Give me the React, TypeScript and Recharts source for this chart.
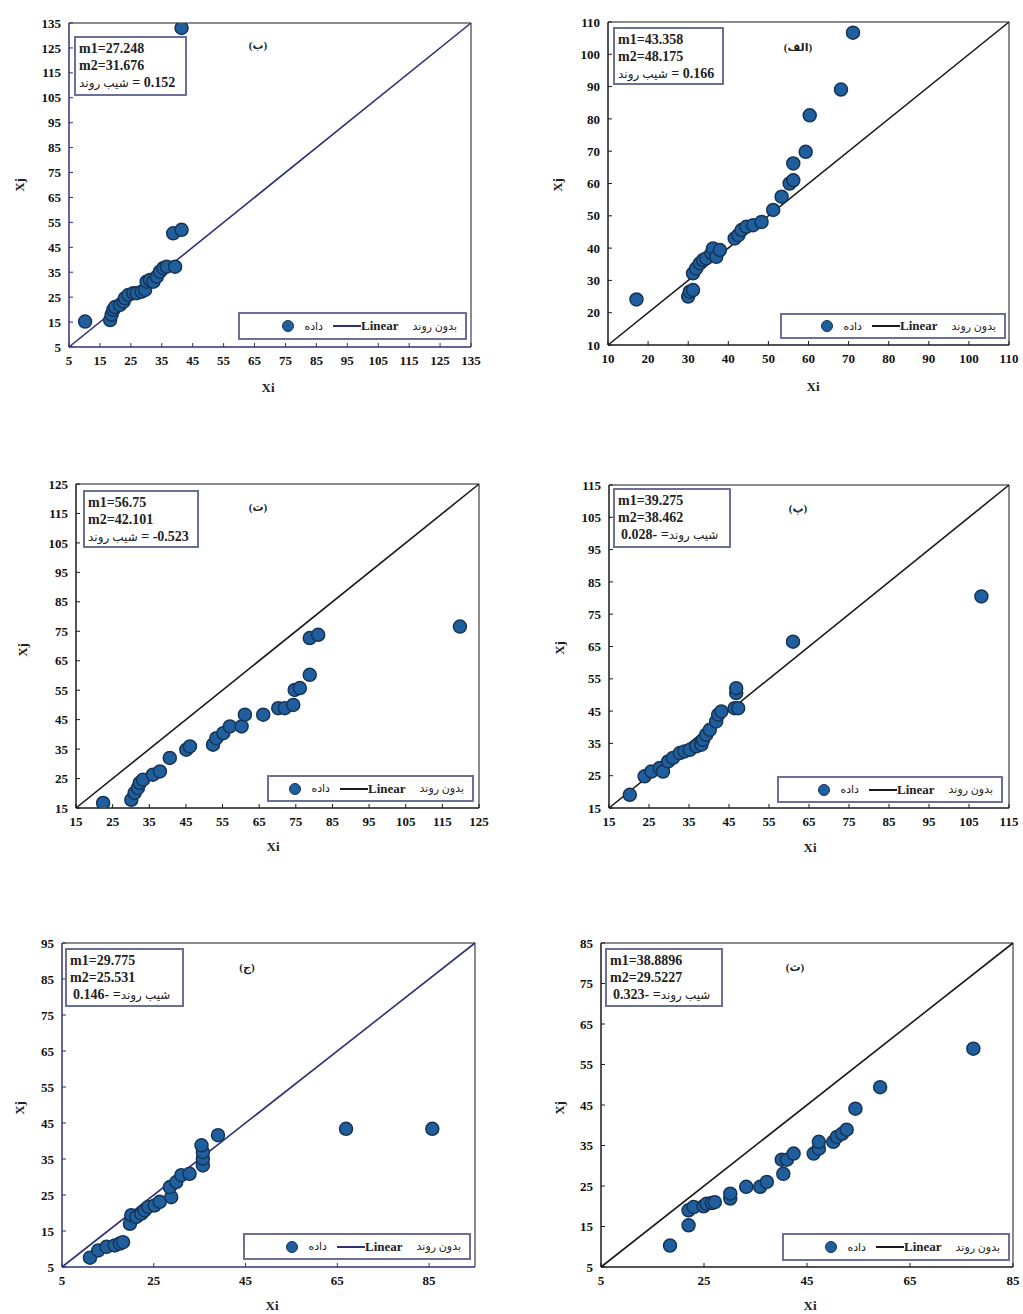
import React from 'react';
import { ScatterChart, Scatter, XAxis, YAxis, ReferenceLine } from 'recharts';

// ---------- DATA ----------
const dataB: [number, number][] = [
  [10.2, 15.2], [18.3, 15.8], [18.8, 18.0], [19.3, 19.9], [19.9, 21.0], [21.5, 21.9], [22.6, 23.2],
  [23.1, 24.6], [24.2, 25.9], [25.8, 26.6], [26.9, 26.6], [28.5, 27.2], [29.6, 27.9], [30.1, 31.2],
  [31.2, 31.9], [32.3, 31.2], [33.4, 33.2], [34.4, 35.2], [35.5, 36.6], [36.6, 37.2], [39.3, 37.2],
  [38.7, 50.6], [41.4, 52.0], [41.4, 133.0],
];
const dataAlef: [number, number][] = [
  [17.1, 24.1], [30.0, 25.0], [30.4, 26.5], [31.2, 27.0], [31.2, 32.2], [32.0, 33.7], [32.9, 35.3],
  [33.7, 36.3], [34.5, 36.8], [35.8, 38.4], [36.2, 39.9], [37.0, 37.3], [37.9, 39.4], [41.6, 43.0],
  [42.5, 44.0], [43.3, 45.6], [44.5, 46.6], [46.2, 47.1], [48.3, 48.1], [51.2, 51.8], [53.3, 55.9],
  [55.3, 60.0], [56.2, 61.0], [56.2, 66.2], [59.3, 69.8], [60.3, 81.1], [68.1, 89.1], [71.1, 106.7],
];
const dataTe: [number, number][] = [
  [22.4, 16.7], [30.1, 17.8], [31.0, 20.1], [31.9, 21.8], [32.4, 23.5], [33.3, 24.6], [36.0, 26.3],
  [37.9, 27.4], [40.6, 32.0], [45.1, 34.8], [46.1, 35.9], [52.4, 36.5], [53.3, 38.7], [55.2, 40.4],
  [57.0, 42.7], [60.2, 42.7], [61.1, 46.7], [66.1, 46.7], [70.2, 48.9], [72.0, 48.9], [74.3, 50.0],
  [74.7, 55.1], [76.1, 55.7], [78.8, 60.2], [78.8, 72.7], [81.1, 73.8], [119.8, 76.6],
];
const dataPe: [number, number][] = [
  [20.2, 19.1], [23.9, 24.8], [25.6, 26.3], [27.7, 27.4], [28.5, 26.3], [29.8, 29.4], [31.0, 30.5],
  [32.7, 32.0], [33.9, 32.5], [35.2, 33.0], [36.8, 34.1], [38.1, 34.6], [38.5, 36.1], [39.3, 37.7],
  [40.2, 39.2], [41.8, 41.8], [42.3, 43.9], [43.1, 44.9], [46.4, 45.9], [47.3, 45.9], [46.8, 50.6],
  [46.8, 52.1], [61.0, 66.5], [108.1, 80.5],
];
const dataJim: [number, number][] = [
  [11.1, 7.6], [12.9, 9.6], [14.7, 10.6], [16.5, 11.0], [17.6, 11.5], [18.3, 11.9], [19.8, 17.0],
  [20.1, 19.4], [21.2, 18.9], [22.3, 19.8], [23.0, 20.7], [23.8, 21.7], [25.2, 22.1], [26.3, 23.1],
  [28.8, 24.4], [28.5, 27.2], [29.9, 28.6], [31.0, 30.5], [32.8, 30.9], [35.7, 33.2], [35.7, 35.1],
  [35.7, 36.9], [35.4, 38.8], [39.0, 41.6], [66.9, 43.4], [85.7, 43.4],
];
const dataSe: [number, number][] = [
  [18.4, 10.3], [22.0, 15.3], [22.0, 19.0], [23.0, 19.8], [24.9, 20.0], [25.5, 20.6], [26.5, 20.8],
  [27.1, 21.0], [30.1, 21.9], [30.1, 23.1], [33.2, 24.8], [35.9, 24.8], [37.2, 26.0], [40.4, 28.0],
  [40.1, 31.5], [41.1, 31.5], [42.4, 33.0], [46.3, 33.0], [47.3, 34.2], [47.3, 35.9], [50.1, 35.9],
  [50.8, 37.1], [51.8, 37.9], [52.7, 38.9], [54.4, 44.1], [59.2, 49.4], [77.3, 58.9],
];

const ticksB = [5, 15, 25, 35, 45, 55, 65, 75, 85, 95, 105, 115, 125, 135];
const ticksAlef = [10, 20, 30, 40, 50, 60, 70, 80, 90, 100, 110];
const ticksTe = [15, 25, 35, 45, 55, 65, 75, 85, 95, 105, 115, 125];
const ticksPe = [15, 25, 35, 45, 55, 65, 75, 85, 95, 105, 115];
const ticksJimX = [5, 25, 45, 65, 85];
const ticksJimY = [5, 15, 25, 35, 45, 55, 65, 75, 85, 95];
const ticksSeX = [5, 25, 45, 65, 85];
const ticksSeY = [5, 15, 25, 35, 45, 55, 65, 75, 85];

const labelsM1 = ['m1=27.248', 'm1=43.358', 'm1=56.75', 'm1=39.275', 'm1=29.775', 'm1=38.8896'];
const labelsM2 = ['m2=31.676', 'm2=48.175', 'm2=42.101', 'm2=38.462', 'm2=25.531', 'm2=29.5227'];
const slopeValues = ['0.152', '0.166', '-0.523', '0.028-', '0.146-', '0.323-'];
const panelLetters = ['(ب)', '(الف)', '(ت)', '(پ)', '(ج)', '(ث)'];
const SLOPE_WORD = 'شیب روند';
const LEG_DATA = 'داده';
const LEG_NOTREND = 'بدون روند';

// ---------- STYLE ----------
const FONT = "'Liberation Serif', 'Times New Roman', 'DejaVu Sans', serif";
const NAVY = '#2c3275';
const BLACK = '#1a1a1a';
const BOXBORDER = '#6b7096';
const DOT_FILL = '#1f5f9e';
const DOT_STROKE = '#173456';

type Panel = {
  data: [number, number][];
  domain: [number, number];
  xTicks: number[];
  yTicks: number[];
  plot: [number, number, number, number];
  chart: [number, number, number, number];
  color: string;
  info: [number, number, number, number];
  numberFirst: boolean;
  legend: [number, number, number, number];
  letter: [number, number];
  xj: [number, number];
  xi: [number, number];
};

const panels: Panel[] = [
  {
    data: dataB, domain: [5, 135], xTicks: ticksB, yTicks: ticksB,
    plot: [69, 23, 471, 347], chart: [0, 0, 505, 430], color: NAVY,
    info: [74, 36, 187, 96], numberFirst: false, legend: [238, 312, 467, 340],
    letter: [258, 45], xj: [20, 185], xi: [268, 388],
  },
  {
    data: dataAlef, domain: [10, 110], xTicks: ticksAlef, yTicks: ticksAlef,
    plot: [608, 22, 1009, 345], chart: [515, 0, 505, 430], color: BLACK,
    info: [613, 27, 724, 85], numberFirst: false, legend: [780, 313, 1006, 339],
    letter: [798, 47], xj: [558, 185], xi: [813, 387],
  },
  {
    data: dataTe, domain: [15, 125], xTicks: ticksTe, yTicks: ticksTe,
    plot: [76, 484, 479, 808], chart: [0, 460, 505, 430], color: BLACK,
    info: [83, 490, 199, 548], numberFirst: false, legend: [267, 775, 474, 802],
    letter: [258, 507], xj: [23, 650], xi: [273, 847],
  },
  {
    data: dataPe, domain: [15, 115], xTicks: ticksPe, yTicks: ticksPe,
    plot: [609, 485, 1009, 808], chart: [515, 460, 505, 430], color: BLACK,
    info: [613, 488, 731, 548], numberFirst: true, legend: [777, 776, 1003, 803],
    letter: [798, 508], xj: [560, 648], xi: [810, 848],
  },
  {
    data: dataJim, domain: [5, 95], xTicks: ticksJimX, yTicks: ticksJimY,
    plot: [62, 943, 475, 1267], chart: [0, 920, 505, 394], color: NAVY,
    info: [65, 948, 184, 1007], numberFirst: true, legend: [243, 1233, 471, 1260],
    letter: [247, 967], xj: [20, 1108], xi: [272, 1306],
  },
  {
    data: dataSe, domain: [5, 85], xTicks: ticksSeX, yTicks: ticksSeY,
    plot: [601, 943, 1013, 1267], chart: [515, 920, 505, 394], color: BLACK,
    info: [605, 948, 723, 1007], numberFirst: true, legend: [782, 1233, 1010, 1261],
    letter: [795, 967], xj: [560, 1108], xi: [810, 1306],
  },
];

const Y_AXIS_W = 40;
const X_AXIS_H = 30;

const Dot = (p: any) => (
  <circle cx={p.cx} cy={p.cy} r={6.5} fill={DOT_FILL} stroke={DOT_STROKE} strokeWidth={1.5} />
);

function PanelChart({ panel }: { panel: Panel }) {
  const [pl, pt, pr, pb] = panel.plot;
  const [cl, ct, cw, ch] = panel.chart;
  const margin = {
    top: pt - ct,
    right: cl + cw - pr,
    left: pl - cl - Y_AXIS_W,
    bottom: ct + ch - pb - X_AXIS_H,
  };
  const rows = panel.data.map(([x, y]) => ({ x, y }));
  const [lo, hi] = panel.domain;
  const tickStyle = { fontFamily: FONT, fontSize: 13, fontWeight: 700, fill: '#111' };
  return (
    <div style={{ position: 'absolute', left: cl, top: ct, width: cw, height: ch }}>
      <ScatterChart width={cw} height={ch} margin={margin}>
        <XAxis
          type="number" dataKey="x" domain={panel.domain} ticks={panel.xTicks} interval={0}
          allowDataOverflow height={X_AXIS_H} tickSize={-4} tickMargin={13}
          axisLine={{ stroke: panel.color, strokeWidth: 1.5 }} tickLine={{ stroke: panel.color }}
          tick={tickStyle}
        />
        <YAxis
          type="number" dataKey="y" domain={panel.domain} ticks={panel.yTicks} interval={0}
          allowDataOverflow width={Y_AXIS_W} tickSize={-4} tickMargin={12}
          axisLine={{ stroke: panel.color, strokeWidth: 1.5 }} tickLine={{ stroke: panel.color }}
          tick={tickStyle}
        />
        <ReferenceLine y={hi} stroke="#666" strokeWidth={1.5} ifOverflow="visible" />
        <ReferenceLine x={hi} stroke="#666" strokeWidth={1.5} ifOverflow="visible" />
        <ReferenceLine
          segment={[{ x: lo, y: lo }, { x: hi, y: hi }]}
          stroke={panel.color} strokeWidth={1.6} ifOverflow="visible"
        />
        <Scatter data={rows} isAnimationActive={false} shape={Dot} />
      </ScatterChart>
    </div>
  );
}

function Overlays({ panel, idx }: { panel: Panel; idx: number }) {
  const [il, it, ir, ib] = panel.info;
  const [ll, lt, lr, lb] = panel.legend;
  const text: React.CSSProperties = { fontFamily: FONT, fontWeight: 700, color: '#222' };
  const ar: React.CSSProperties = { fontSize: 12, fontWeight: 400 };
  return (
    <>
      <div
        style={{
          position: 'absolute', left: il, top: it, width: ir - il, height: ib - it,
          border: `2px solid ${BOXBORDER}`, boxSizing: 'border-box', background: '#fff',
          padding: '2px 3px', fontSize: 14, lineHeight: '17px', direction: 'ltr', whiteSpace: 'nowrap',
          ...text,
        }}
      >
        <div>{labelsM1[idx]}</div>
        <div>{labelsM2[idx]}</div>
        {panel.numberFirst ? (
          <div style={{ paddingLeft: 3 }}>
            <span>{slopeValues[idx]} =</span>
            <span dir="rtl" style={ar}>{SLOPE_WORD}</span>
          </div>
        ) : (
          <div>
            <span dir="rtl" style={ar}>{SLOPE_WORD}</span>
            <span> = {slopeValues[idx]}</span>
          </div>
        )}
      </div>
      <div
        style={{
          position: 'absolute', left: ll, top: lt, width: lr - ll, height: lb - lt,
          border: `2px solid ${BOXBORDER}`, boxSizing: 'border-box', background: '#fff',
          display: 'flex', alignItems: 'center', justifyContent: 'flex-end', paddingRight: 8,
          fontSize: 13, direction: 'ltr', whiteSpace: 'nowrap', ...text,
        }}
      >
        <span style={{
          display: 'inline-block', width: 12, height: 12, borderRadius: 6, background: DOT_FILL,
          border: `1.5px solid ${DOT_STROKE}`, boxSizing: 'border-box', marginRight: 10,
        }} />
        <span dir="rtl" style={{ fontSize: 11, fontWeight: 400 }}>{LEG_DATA}</span>
        <span style={{ display: 'inline-block', width: 28, height: 0, borderTop: `2px solid ${panel.color}`, marginLeft: 10 }} />
        <span>Linear</span>
        <span dir="rtl" style={{ fontSize: 11, fontWeight: 400, marginLeft: 14 }}>{LEG_NOTREND}</span>
      </div>
      <div
        style={{
          position: 'absolute', left: panel.letter[0] - 30, top: panel.letter[1] - 8, width: 60,
          textAlign: 'center', fontSize: 11, lineHeight: '16px', ...text,
        }}
      >
        <span dir="rtl">{panelLetters[idx]}</span>
      </div>
      <div
        style={{
          position: 'absolute', left: panel.xi[0] - 20, top: panel.xi[1] - 9, width: 40,
          textAlign: 'center', fontSize: 13, lineHeight: '18px', ...text,
        }}
      >
        Xi
      </div>
      <div
        style={{
          position: 'absolute', left: panel.xj[0] - 20, top: panel.xj[1] - 9, width: 40,
          textAlign: 'center', fontSize: 13, lineHeight: '18px', transform: 'rotate(-90deg)', ...text,
        }}
      >
        Xj
      </div>
    </>
  );
}

export default function App() {
  return (
    <div style={{ position: 'absolute', left: 0, top: 0, width: 1023, height: 1314, background: '#fff', overflow: 'hidden' }}>
      {panels.map((p, i) => (
        <PanelChart key={'c' + i} panel={p} />
      ))}
      {panels.map((p, i) => (
        <Overlays key={'o' + i} panel={p} idx={i} />
      ))}
    </div>
  );
}
